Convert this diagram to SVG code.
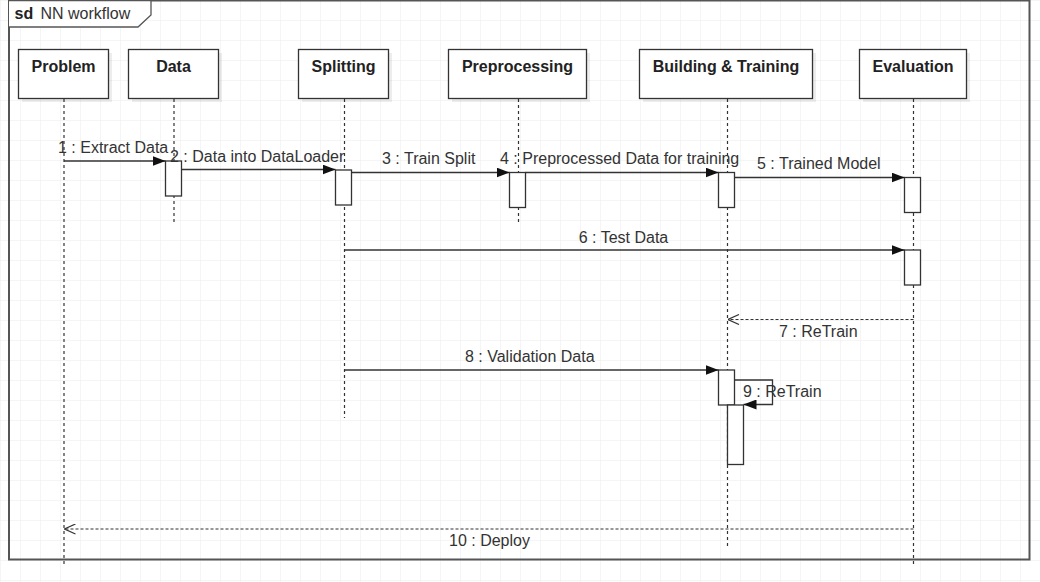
<svg xmlns="http://www.w3.org/2000/svg" width="1040" height="582" viewBox="0 0 1040 582">
<style>
  .box{fill:#fff;stroke:#333;stroke-width:1.3}
  .shadow{fill:#000;opacity:0.07}
  .act{fill:#fff;stroke:#333;stroke-width:1.3}
  .life{stroke:#333;stroke-width:1.2;stroke-dasharray:3 3;fill:none}
  .msg{stroke:#333;stroke-width:1.3;fill:none;marker-end:url(#filled)}
  .ret{stroke:#333;stroke-width:1.2;fill:none;stroke-dasharray:3 2;marker-end:url(#open)}
  .nl{font-family:"Liberation Sans",Arial,sans-serif;font-size:16px;font-weight:bold;fill:#222;text-anchor:middle}
  .ml{font-family:"Liberation Sans",Arial,sans-serif;font-size:16px;fill:#333}
</style>
<defs>
  <pattern id="grid" width="20" height="20" patternUnits="userSpaceOnUse">
    <path d="M20 0 L0 0 0 20" fill="none" stroke="#ebebeb" stroke-width="1"/>
  </pattern>
  <marker id="filled" viewBox="0 0 13 10" refX="13" refY="5" markerWidth="13" markerHeight="10" orient="auto" markerUnits="userSpaceOnUse">
    <path d="M0,0 L13,5 L0,10 z" fill="#111"/>
  </marker>
  <marker id="open" viewBox="0 0 12 11" refX="11.5" refY="5.5" markerWidth="12" markerHeight="11" orient="auto" markerUnits="userSpaceOnUse">
    <path d="M0.5,0.5 L11.5,5.5 L0.5,10.5" fill="none" stroke="#333" stroke-width="1.2"/>
  </marker>
</defs>
<rect width="1040" height="582" fill="#fff"/>
<rect width="1040" height="582" fill="url(#grid)"/>

<g id="frame">
  <rect x="9" y="0.5" width="1020.5" height="559" fill="none" stroke="#555" stroke-width="2"/>
  <path d="M9,0.5 L151,0.5 L151,15 L138,27 L9,27" fill="#fff" stroke="#555" stroke-width="1.3"/>
  <text x="14.5" y="19" font-family="Liberation Sans,Arial,sans-serif" font-size="16px" font-weight="bold" fill="#222">sd</text>
  <text x="40.5" y="19" font-family="Liberation Sans,Arial,sans-serif" font-size="16px" fill="#333">NN workflow</text>
</g>

<g id="lifelines">
  <line class="life" x1="64" y1="99" x2="64" y2="566"/>
  <line class="life" x1="174" y1="99" x2="174" y2="222"/>
  <line class="life" x1="344.5" y1="99" x2="344.5" y2="418"/>
  <line class="life" x1="518.5" y1="99" x2="518.5" y2="223"/>
  <line class="life" x1="727.5" y1="99" x2="727.5" y2="546"/>
  <line class="life" x1="913.5" y1="99" x2="913.5" y2="566"/>
</g>

<g id="node-problem">
  <rect class="shadow" x="22" y="53" width="90" height="49"/>
  <rect class="box" x="18.5" y="49.5" width="90" height="49"/>
  <text class="nl" x="63.5" y="71.5">Problem</text>
</g>
<g id="node-data">
  <rect class="shadow" x="132" y="53" width="90" height="49"/>
  <rect class="box" x="128.5" y="49.5" width="90" height="49"/>
  <text class="nl" x="173.5" y="71.5">Data</text>
</g>
<g id="node-splitting">
  <rect class="shadow" x="302" y="53" width="90" height="49"/>
  <rect class="box" x="298.5" y="49.5" width="90" height="49"/>
  <text class="nl" x="343.5" y="71.5">Splitting</text>
</g>
<g id="node-preprocessing">
  <rect class="shadow" x="452" y="53" width="138" height="49"/>
  <rect class="box" x="448.5" y="49.5" width="138" height="49"/>
  <text class="nl" x="517.5" y="71.5">Preprocessing</text>
</g>
<g id="node-building">
  <rect class="shadow" x="643" y="53" width="173" height="49"/>
  <rect class="box" x="639.5" y="49.5" width="173" height="49"/>
  <text class="nl" x="726" y="71.5">Building &amp; Training</text>
</g>
<g id="node-evaluation">
  <rect class="shadow" x="863" y="53" width="107" height="49"/>
  <rect class="box" x="859.5" y="49.5" width="107" height="49"/>
  <text class="nl" x="913" y="71.5">Evaluation</text>
</g>

<g id="activations">
  <rect class="act" x="165.5" y="161" width="16" height="35"/>
  <rect class="act" x="335.5" y="170" width="16" height="35"/>
  <rect class="act" x="509.5" y="172.5" width="16" height="35"/>
  <rect class="act" x="718.5" y="172.5" width="16" height="35"/>
  <rect class="act" x="904.5" y="177.5" width="16" height="35"/>
  <rect class="act" x="904.5" y="250" width="16" height="35"/>
  <rect class="act" x="718.5" y="370" width="16" height="35"/>
  <rect class="act" x="727.5" y="405" width="16" height="59.5"/>
</g>

<g id="connectors">
  <line class="msg" x1="64" y1="161" x2="165.5" y2="161"/>
  <line class="msg" x1="181.5" y1="169.5" x2="335.5" y2="169.5"/>
  <line class="msg" x1="351.5" y1="172.5" x2="509.5" y2="172.5"/>
  <line class="msg" x1="525.5" y1="172.5" x2="718.5" y2="172.5"/>
  <line class="msg" x1="734.5" y1="177.5" x2="904.5" y2="177.5"/>
  <line class="msg" x1="344.5" y1="250" x2="904.5" y2="250"/>
  <line class="ret" x1="913.5" y1="319.5" x2="728" y2="319.5"/>
  <line class="msg" x1="344.5" y1="370" x2="718.5" y2="370"/>
  <polyline class="msg" points="734.5,380 772.5,380 772.5,404.5 743.5,404.5"/>
  <line class="ret" x1="913.5" y1="529" x2="64.5" y2="529"/>
</g>

<g id="labels">
  <text class="ml" x="58" y="152.5">1 : Extract Data</text>
  <text class="ml" x="170" y="162">2 : Data into DataLoader</text>
  <text class="ml" x="382" y="163.5">3 : Train Split</text>
  <text class="ml" x="500" y="163.5">4 : Preprocessed Data for training</text>
  <text class="ml" x="757" y="168.5">5 : Trained Model</text>
  <text class="ml" x="623.5" y="242.5" text-anchor="middle">6 : Test Data</text>
  <text class="ml" x="779" y="337">7 : ReTrain</text>
  <text class="ml" x="465" y="362">8 : Validation Data</text>
  <text class="ml" x="743" y="396.5">9 : ReTrain</text>
  <text class="ml" x="489.5" y="546" text-anchor="middle">10 : Deploy</text>
</g>
</svg>
